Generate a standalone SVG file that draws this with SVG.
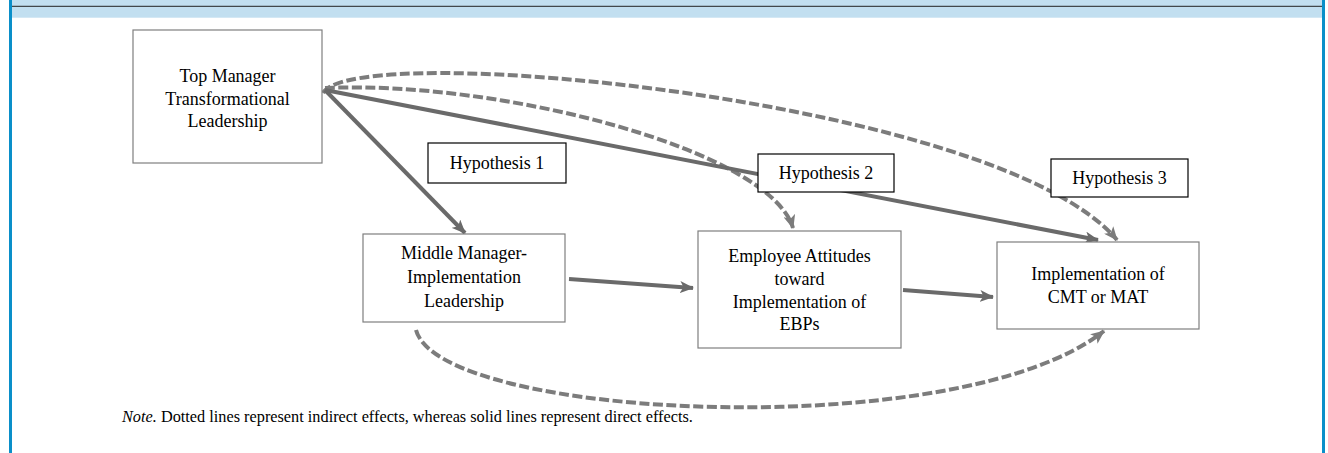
<svg xmlns="http://www.w3.org/2000/svg" width="1328" height="453" viewBox="0 0 1328 453">
<defs>
<style>
.box{fill:#ffffff;stroke:#7f7f7f;stroke-width:1.2}
.hyp{fill:#ffffff;stroke:#000000;stroke-width:1.2}
.t{font-family:"Liberation Serif","Times New Roman",serif;font-size:18px;fill:#000;text-anchor:middle}
.note{font-family:"Liberation Serif","Times New Roman",serif;font-size:16.3px;fill:#000}
.solid{fill:none;stroke:#6a6a6a;stroke-width:4;stroke-linecap:butt}
.dash{fill:none;stroke:#7c7c7c;stroke-width:4;stroke-dasharray:10 3.5}
</style>
<marker id="ahS" viewBox="0 0 14 12" refX="13" refY="6" markerWidth="14" markerHeight="12" markerUnits="userSpaceOnUse" orient="auto">
<path d="M0,0 L14,6 L0,12 L3.5,6 z" fill="#6a6a6a"/>
</marker>
<marker id="ahD" viewBox="0 0 14 12" refX="13" refY="6" markerWidth="14" markerHeight="12" markerUnits="userSpaceOnUse" orient="auto">
<path d="M0,0 L14,6 L0,12 L3.5,6 z" fill="#7c7c7c"/>
</marker>
</defs>
<rect x="0" y="0" width="1328" height="453" fill="#ffffff"/>
<g id="frame">
<rect x="12" y="0" width="1310" height="17.7" fill="#c2dff0"/>
<line x1="9" y1="6.3" x2="1325" y2="6.3" stroke="#222222" stroke-width="1"/>
<rect x="9" y="0" width="3" height="453" fill="#0a8fc9"/>
<rect x="1322" y="0" width="3" height="453" fill="#0a8fc9"/>
</g>
<g id="connectors">
<path class="dash" d="M323,93 C355,38 1000,100 1117,240" marker-end="url(#ahD)"/>
<path class="dash" d="M325,88 C500,80 770,150 793,228" marker-end="url(#ahD)"/>
<path class="dash" d="M416,330 C440,420 960,445 1104,331" marker-end="url(#ahD)"/>
<line class="solid" x1="325" y1="90" x2="465" y2="233" marker-end="url(#ahS)"/>
<line class="solid" x1="325" y1="90" x2="1098" y2="240" marker-end="url(#ahS)"/>
<line class="solid" x1="569" y1="279" x2="693" y2="288" marker-end="url(#ahS)"/>
<line class="solid" x1="903" y1="290" x2="993" y2="297" marker-end="url(#ahS)"/>
</g>
<g id="top-manager">
<rect class="box" x="133" y="30" width="189" height="133"/>
<text class="t" x="227.5" y="82">Top Manager</text>
<text class="t" x="227.5" y="104.5">Transformational</text>
<text class="t" x="227.5" y="127">Leadership</text>
</g>
<g id="hypothesis-1">
<rect class="hyp" x="428" y="143" width="138" height="40"/>
<text class="t" x="497" y="169">Hypothesis 1</text>
</g>
<g id="middle-manager">
<rect class="box" x="363" y="234" width="202" height="88"/>
<text class="t" x="464" y="259">Middle Manager-</text>
<text class="t" x="464" y="283">Implementation</text>
<text class="t" x="464" y="306.5">Leadership</text>
</g>
<g id="employee-attitudes">
<rect class="box" x="698" y="231" width="203" height="117"/>
<text class="t" x="799.5" y="262">Employee Attitudes</text>
<text class="t" x="799.5" y="285">toward</text>
<text class="t" x="799.5" y="307.5">Implementation of</text>
<text class="t" x="799.5" y="330">EBPs</text>
</g>
<g id="hypothesis-2">
<rect class="hyp" x="758" y="154" width="136" height="38"/>
<text class="t" x="826" y="179">Hypothesis 2</text>
</g>
<g id="hypothesis-3">
<rect class="hyp" x="1051" y="159" width="137" height="38"/>
<text class="t" x="1119.5" y="184">Hypothesis 3</text>
</g>
<g id="implementation">
<rect class="box" x="997" y="242" width="202" height="87"/>
<text class="t" x="1098" y="280">Implementation of</text>
<text class="t" x="1098" y="303">CMT or MAT</text>
</g>
<g id="note">
<text class="note" x="122" y="422"><tspan font-style="italic">Note.</tspan> Dotted lines represent indirect effects, whereas solid lines represent direct effects.</text>
</g>
</svg>
